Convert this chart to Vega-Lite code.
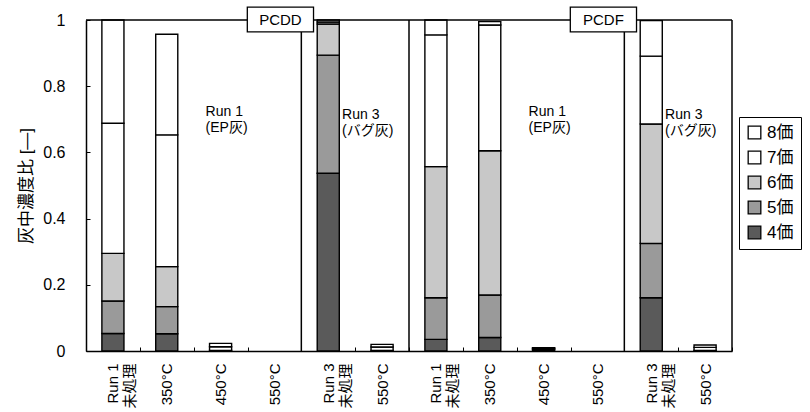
{
  "$schema": "https://vega.github.io/schema/vega-lite/v6.json",
  "width": 646,
  "height": 331,
  "autosize": {"type": "none"},
  "padding": {"left": 86, "top": 20, "right": 78, "bottom": 61},
  "config": {
    "view": {"stroke": null},
    "font": "Liberation Sans, Noto Sans CJK JP",
    "text": {"color": "black"}
  },
  "datasets": {
    "bars": [
      {"c": "1|Run 1|未処理", "k": 4, "g": "4価", "v": 0.053},
      {"c": "1|Run 1|未処理", "k": 5, "g": "5価", "v": 0.098},
      {"c": "1|Run 1|未処理", "k": 6, "g": "6価", "v": 0.144},
      {"c": "1|Run 1|未処理", "k": 7, "g": "7価", "v": 0.393},
      {"c": "1|Run 1|未処理", "k": 8, "g": "8価", "v": 0.312},
      {"c": "2|350°C", "k": 4, "g": "4価", "v": 0.052},
      {"c": "2|350°C", "k": 5, "g": "5価", "v": 0.082},
      {"c": "2|350°C", "k": 6, "g": "6価", "v": 0.121},
      {"c": "2|350°C", "k": 7, "g": "7価", "v": 0.398},
      {"c": "2|350°C", "k": 8, "g": "8価", "v": 0.304},
      {"c": "3|450°C", "k": 6, "g": "6価", "v": 0.002},
      {"c": "3|450°C", "k": 7, "g": "7価", "v": 0.011},
      {"c": "3|450°C", "k": 8, "g": "8価", "v": 0.010},
      {"c": "5|Run 3|未処理", "k": 4, "g": "4価", "v": 0.537},
      {"c": "5|Run 3|未処理", "k": 5, "g": "5価", "v": 0.357},
      {"c": "5|Run 3|未処理", "k": 6, "g": "6価", "v": 0.094},
      {"c": "5|Run 3|未処理", "k": 7, "g": "7価", "v": 0.006},
      {"c": "5|Run 3|未処理", "k": 8, "g": "8価", "v": 0.006},
      {"c": "6|550°C", "k": 6, "g": "6価", "v": 0.002},
      {"c": "6|550°C", "k": 7, "g": "7価", "v": 0.010},
      {"c": "6|550°C", "k": 8, "g": "8価", "v": 0.008},
      {"c": "7|Run 1|未処理", "k": 4, "g": "4価", "v": 0.035},
      {"c": "7|Run 1|未処理", "k": 5, "g": "5価", "v": 0.126},
      {"c": "7|Run 1|未処理", "k": 6, "g": "6価", "v": 0.396},
      {"c": "7|Run 1|未処理", "k": 7, "g": "7価", "v": 0.398},
      {"c": "7|Run 1|未処理", "k": 8, "g": "8価", "v": 0.045},
      {"c": "8|350°C", "k": 4, "g": "4価", "v": 0.041},
      {"c": "8|350°C", "k": 5, "g": "5価", "v": 0.128},
      {"c": "8|350°C", "k": 6, "g": "6価", "v": 0.436},
      {"c": "8|350°C", "k": 7, "g": "7価", "v": 0.380},
      {"c": "8|350°C", "k": 8, "g": "8価", "v": 0.010},
      {"c": "9|450°C", "k": 4, "g": "4価", "v": 0.004},
      {"c": "9|450°C", "k": 5, "g": "5価", "v": 0.003},
      {"c": "9|450°C", "k": 6, "g": "6価", "v": 0.002},
      {"c": "9|450°C", "k": 7, "g": "7価", "v": 0.001},
      {"c": "11|Run 3|未処理", "k": 4, "g": "4価", "v": 0.161},
      {"c": "11|Run 3|未処理", "k": 5, "g": "5価", "v": 0.164},
      {"c": "11|Run 3|未処理", "k": 6, "g": "6価", "v": 0.361},
      {"c": "11|Run 3|未処理", "k": 7, "g": "7価", "v": 0.205},
      {"c": "11|Run 3|未処理", "k": 8, "g": "8価", "v": 0.107},
      {"c": "12|550°C", "k": 6, "g": "6価", "v": 0.002},
      {"c": "12|550°C", "k": 7, "g": "7価", "v": 0.009},
      {"c": "12|550°C", "k": 8, "g": "8価", "v": 0.007}
    ]
  },
  "layer": [
    {
      "data": {"name": "bars"},
      "mark": {"type": "bar", "width": {"band": 0.41}, "stroke": "black", "strokeWidth": 1.4},
      "encoding": {
        "x": {
          "field": "c", "type": "nominal", "title": null,
          "scale": {
            "domain": ["1|Run 1|未処理", "2|350°C", "3|450°C", "4|550°C", "5|Run 3|未処理", "6|550°C", "7|Run 1|未処理", "8|350°C", "9|450°C", "10|550°C", "11|Run 3|未処理", "12|550°C"],
            "paddingInner": 0, "paddingOuter": 0
          },
          "axis": {
            "labelExpr": "slice(split(datum.label, '|'), 1)",
            "labelAngle": -90,
            "labelFontSize": 15,
            "labelLineHeight": 17,
            "labelColor": "black",
            "tickBand": "extent",
            "tickSize": -4,
            "tickColor": "black",
            "labelPadding": 16,
            "domainColor": "black",
            "domainWidth": 1.5
          }
        },
        "y": {
          "field": "v", "type": "quantitative", "stack": "zero",
          "scale": {"domain": [0, 1], "nice": false},
          "axis": {
            "values": [0, 0.2, 0.4, 0.6, 0.8, 1],
            "format": "~g",
            "title": "灰中濃度比 [—]",
            "titleFontSize": 17,
            "titleFontWeight": "normal",
            "titleColor": "black",
            "titlePadding": 7,
            "labelFontSize": 16,
            "labelColor": "black",
            "tickSize": -4,
            "tickColor": "black",
            "labelPadding": 25,
            "domainColor": "black",
            "domainWidth": 1.5,
            "grid": false
          }
        },
        "fill": {
          "field": "g", "type": "nominal",
          "scale": {"domain": ["8価", "7価", "6価", "5価", "4価"], "range": ["#ffffff", "#ffffff", "#c8c8c8", "#9a9a9a", "#5a5a5a"]},
          "legend": {
            "title": null,
            "orient": "none",
            "legendX": 653,
            "legendY": 97,
            "strokeColor": "black",
            "fillColor": "white",
            "padding": 7,
            "symbolType": "square",
            "symbolSize": 160,
            "symbolStrokeColor": "black",
            "symbolStrokeWidth": 1.3,
            "labelFontSize": 17,
            "labelColor": "black",
            "labelOffset": 4,
            "rowPadding": 6
          }
        },
        "order": {"field": "k", "type": "quantitative"}
      }
    },
    {
      "data": {"values": [{"y": 1}]},
      "mark": {"type": "rule", "color": "black", "strokeWidth": 1.5},
      "encoding": {"y": {"field": "y", "type": "quantitative"}}
    },
    {
      "data": {"values": [{"c": "5|Run 3|未処理"}, {"c": "7|Run 1|未処理"}, {"c": "11|Run 3|未処理"}]},
      "mark": {"type": "rule", "color": "black", "strokeWidth": 1.5},
      "encoding": {"x": {"field": "c", "type": "nominal", "bandPosition": 0}}
    },
    {
      "data": {"values": [{"c": "12|550°C"}]},
      "mark": {"type": "rule", "color": "black", "strokeWidth": 1.5},
      "encoding": {"x": {"field": "c", "type": "nominal", "bandPosition": 1}}
    },
    {
      "data": {"values": [{"c": "4|550°C", "t": "PCDD", "y0": 0.964, "y1": 1.039}, {"c": "10|550°C", "t": "PCDF", "y0": 0.964, "y1": 1.039}]},
      "mark": {"type": "bar", "width": {"band": 1.23}, "xOffset": 6, "fill": "white", "stroke": "black", "strokeWidth": 1.3, "clip": false},
      "encoding": {
        "x": {"field": "c", "type": "nominal"},
        "y": {"field": "y0", "type": "quantitative"},
        "y2": {"field": "y1"}
      }
    },
    {
      "data": {"values": [{"c": "4|550°C", "t": "PCDD", "y": 1.0}, {"c": "10|550°C", "t": "PCDF", "y": 1.0}]},
      "mark": {"type": "text", "xOffset": 6, "fontSize": 15, "baseline": "middle", "align": "center"},
      "encoding": {
        "x": {"field": "c", "type": "nominal"},
        "y": {"field": "y", "type": "quantitative"},
        "text": {"field": "t"}
      }
    },
    {
      "data": {"values": [{"c": "3|450°C", "t": ["Run 1", "(EP灰)"], "y": 0.743}, {"c": "9|450°C", "t": ["Run 1", "(EP灰)"], "y": 0.743}]},
      "mark": {"type": "text", "dx": -15, "fontSize": 14, "baseline": "top", "align": "left", "lineHeight": 16},
      "encoding": {
        "x": {"field": "c", "type": "nominal"},
        "y": {"field": "y", "type": "quantitative"},
        "text": {"field": "t"}
      }
    },
    {
      "data": {"values": [{"c": "6|550°C", "t": ["Run 3", "(バグ灰)"], "y": 0.735}, {"c": "12|550°C", "t": ["Run 3", "(バグ灰)"], "y": 0.735}]},
      "mark": {"type": "text", "dx": -40, "fontSize": 14, "baseline": "top", "align": "left", "lineHeight": 16},
      "encoding": {
        "x": {"field": "c", "type": "nominal"},
        "y": {"field": "y", "type": "quantitative"},
        "text": {"field": "t"}
      }
    }
  ]
}
